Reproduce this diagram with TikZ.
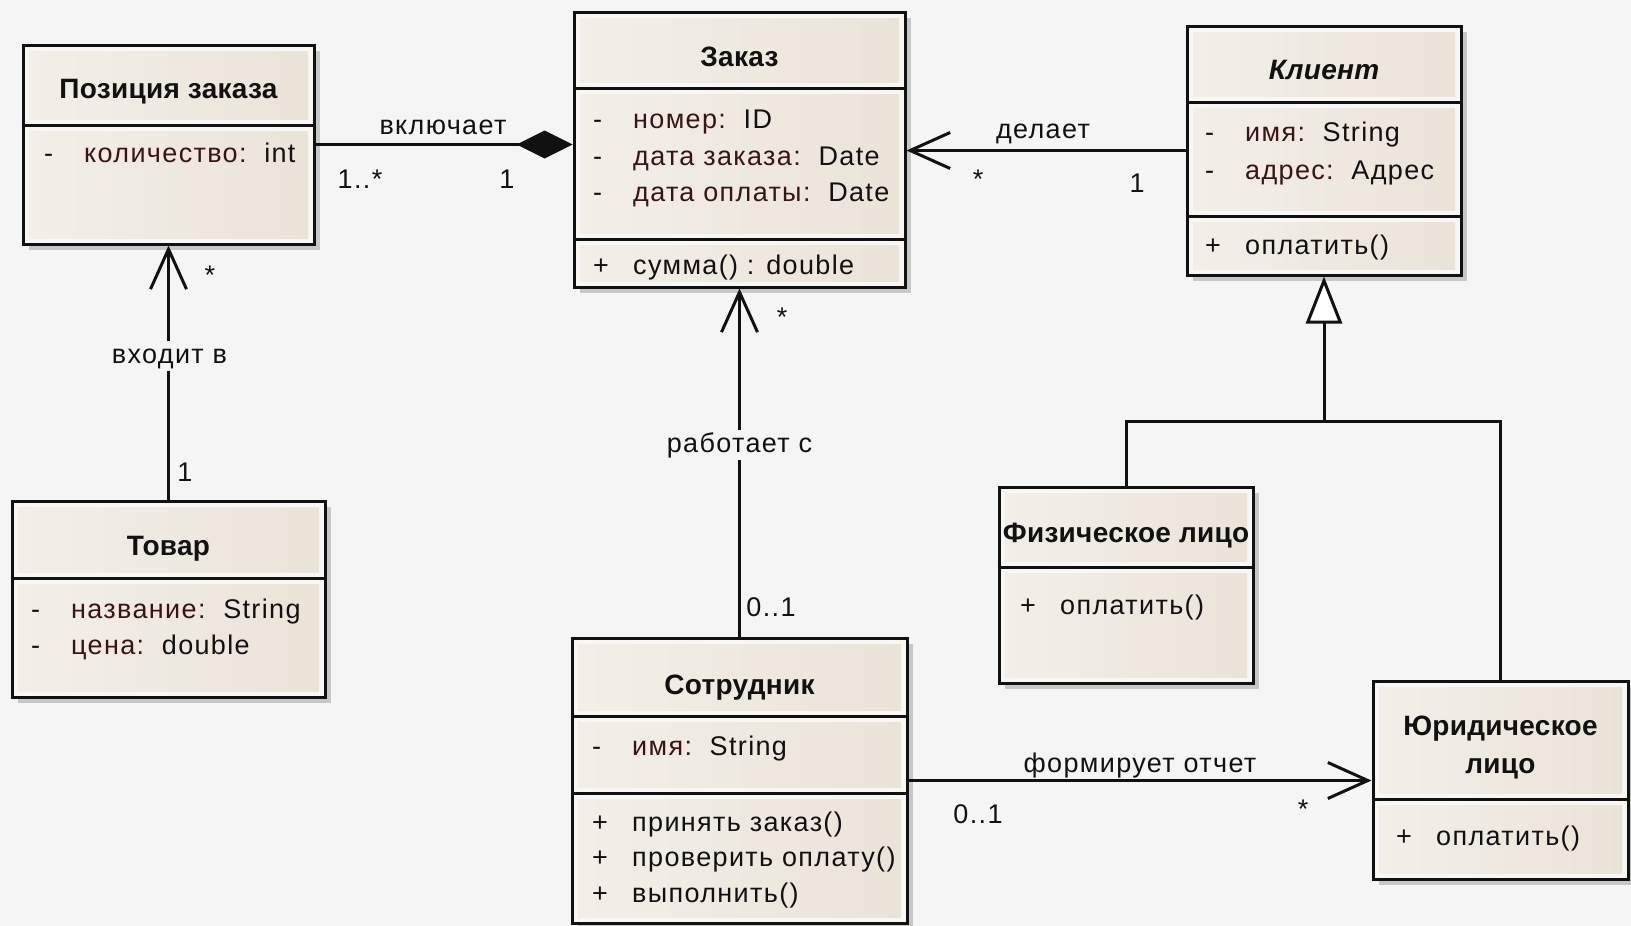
\documentclass[tikz,border=0pt]{standalone}
\usepackage{fontspec}
\setmainfont{Liberation Sans}
\newfontfamily\rowfont[LetterSpace=5]{Liberation Sans}
\newfontfamily\headfont[LetterSpace=1]{Liberation Sans}
\usetikzlibrary{arrows.meta,shadows}
\definecolor{pagebg}{HTML}{F5F5F5}
\definecolor{boxbg}{HTML}{F9F7F3}
\definecolor{insetL}{HTML}{F3EFE8}
\definecolor{insetR}{HTML}{EAE3D8}
\definecolor{attrname}{HTML}{3A1414}
\definecolor{ink}{HTML}{111111}
\newcommand\vis[1]{\makebox[40pt][l]{#1}}
\newcommand\an[1]{\textcolor{attrname}{#1}}
\newcommand\inset[4]{\shade[left color=insetL,right color=insetR] (#1+6,#2+6) rectangle (#3-6,#4-6);}
\tikzset{
 cls/.style={draw=ink, line width=3pt, fill=boxbg, inner sep=0pt,
   drop shadow={shadow xshift=6pt, shadow yshift=-6pt, fill=black!22, opacity=1}},
 sepline/.style={draw=ink, line width=3pt},
 row/.style={anchor=west, inner sep=0pt, text height=19pt, text depth=5pt,
   font=\rowfont\fontsize{27}{32}\selectfont, text=ink},
 head/.style={anchor=center, inner sep=0pt, text height=20pt, text depth=6pt,
   font=\headfont\bfseries\fontsize{28}{34}\selectfont, text=ink},
 lbl/.style={inner sep=3pt, text height=19pt, text depth=5pt,
   font=\rowfont\fontsize{27}{32}\selectfont, text=ink},
 conn/.style={draw=ink, line width=3pt},
 assoc/.style={conn, -{Straight Barb[length=40pt,width=36pt]}},
 compo/.style={conn, -{Diamond[length=56pt,width=28pt]}},
 gen/.style={conn, -{Triangle[open,length=47pt,width=36pt,fill=white]}},
}
\begin{document}
\begin{tikzpicture}[x=1pt,y=-1pt]
\useasboundingbox (0,0) rectangle (1631,926);
\fill[pagebg] (0,0) rectangle (1631,926);

% ---------- class boxes ----------
\node[cls, minimum width=291pt, minimum height=199pt] (poz) at (168.5,144.5) {};
\node[cls, minimum width=331pt, minimum height=275pt] (zak) at (739.5,149.5) {};
\node[cls, minimum width=274pt, minimum height=249pt] (kl)  at (1324,150.5) {};
\node[cls, minimum width=313pt, minimum height=196pt] (tov) at (168.5,599) {};
\node[cls, minimum width=335pt, minimum height=285pt] (sot) at (739.5,780.5) {};
\node[cls, minimum width=254pt, minimum height=196pt] (fiz) at (1126,585) {};
\node[cls, minimum width=255pt, minimum height=198pt] (yur) at (1500.5,780) {};

% compartments (inner tint)
\inset{23}{45}{314}{125}\inset{23}{125}{314}{244}
\inset{574}{12}{905}{88}\inset{574}{88}{905}{239}\inset{574}{239}{905}{287}
\inset{1187}{26}{1461}{102}\inset{1187}{102}{1461}{216}\inset{1187}{216}{1461}{275}
\inset{12}{501}{325}{578}\inset{12}{578}{325}{697}
\inset{572}{638}{907}{716}\inset{572}{716}{907}{793}\inset{572}{793}{907}{923}
\inset{999}{487}{1253}{567}\inset{999}{567}{1253}{683}
\inset{1373}{681}{1628}{799}\inset{1373}{799}{1628}{879}

% separators
\draw[sepline] (poz.west |- 0,125) -- (poz.east |- 0,125);
\draw[sepline] (zak.west |- 0,88) -- (zak.east |- 0,88);
\draw[sepline] (zak.west |- 0,239) -- (zak.east |- 0,239);
\draw[sepline] (kl.west |- 0,102) -- (kl.east |- 0,102);
\draw[sepline] (kl.west |- 0,216) -- (kl.east |- 0,216);
\draw[sepline] (tov.west |- 0,578) -- (tov.east |- 0,578);
\draw[sepline] (sot.west |- 0,716) -- (sot.east |- 0,716);
\draw[sepline] (sot.west |- 0,793) -- (sot.east |- 0,793);
\draw[sepline] (fiz.west |- 0,567) -- (fiz.east |- 0,567);
\draw[sepline] (yur.west |- 0,799) -- (yur.east |- 0,799);

% ---------- titles ----------
\node[head] (poz-h) at (168.5,91) {Позиция заказа};
\node[head] (zak-h) at (739.5,59) {Заказ};
\node[head, font=\headfont\bfseries\itshape\fontsize{28}{34}\selectfont] (kl-h) at (1324,72) {Клиент};
\node[head] (tov-h) at (168.5,548) {Товар};
\node[head] (sot-h) at (739.5,687) {Сотрудник};
\node[head] (fiz-h) at (1126,535) {Физическое лицо};
\node[head] (yur-h1) at (1500.5,728) {Юридическое};
\node[head] (yur-h2) at (1500.5,766) {лицо};

% ---------- attributes / operations ----------
\node[row] (poz-a1) at (44,155) {\vis{-}\an{количество:}\ \ int};

\node[row] (zak-a1) at (593,121) {\vis{-}\an{номер:}\ \ ID};
\node[row] (zak-a2) at (593,158) {\vis{-}\an{дата заказа:}\ \ Date};
\node[row] (zak-a3) at (593,194) {\vis{-}\an{дата оплаты:}\ \ Date};
\node[row] (zak-m1) at (593,267) {\vis{+}сумма() : double};

\node[row] (kl-a1) at (1205,134) {\vis{-}\an{имя:}\ \ String};
\node[row] (kl-a2) at (1205,172) {\vis{-}\an{адрес:}\ \ Адрес};
\node[row] (kl-m1) at (1205,247) {\vis{+}оплатить()};

\node[row] (tov-a1) at (31,611) {\vis{-}\an{название:}\ \ String};
\node[row] (tov-a2) at (31,647) {\vis{-}\an{цена:}\ \ double};

\node[row] (sot-a1) at (592,748) {\vis{-}\an{имя:}\ \ String};
\node[row] (sot-m1) at (592,824) {\vis{+}принять заказ()};
\node[row] (sot-m2) at (592,859) {\vis{+}проверить оплату()};
\node[row] (sot-m3) at (592,895) {\vis{+}выполнить()};

\node[row] (fiz-m1) at (1020,607) {\vis{+}оплатить()};
\node[row] (yur-m1) at (1396,838) {\vis{+}оплатить()};

% ---------- connectors ----------
\draw[compo] (poz.east) -- (zak.west |- poz.east);
\draw[assoc] (kl.west) -- (zak.east |- kl.west);
\draw[assoc] (tov.north) -- (poz.south);
\draw[assoc] (sot.north) -- (zak.south);
\draw[assoc] (sot.east) -- (yur.west |- sot.east);
\coordinate (gj) at (1325,421);
\draw[conn] (fiz.north) |- (yur.north |- gj) -- (yur.north);
\draw[gen] (kl.south |- gj) -- (kl.south);

% ---------- connector labels ----------
\node[lbl] (l-incl) at (443,127) {включает};
\node[lbl] (m-incl1) at (360,181) {1..*};
\node[lbl] (m-incl2) at (507,181) {1};
\node[lbl] (l-make) at (1043,131) {делает};
\node[lbl] (m-make1) at (978,181) {*};
\node[lbl] (m-make2) at (1137,185) {1};
\node[lbl, fill=pagebg] (l-in) at (169.5,356) {входит в};
\node[lbl] (m-in1) at (210,277) {*};
\node[lbl] (m-in2) at (185,474) {1};
\node[lbl, fill=pagebg] (l-work) at (739.5,445) {работает с};
\node[lbl] (m-work1) at (782,319) {*};
\node[lbl] (m-work2) at (771,609) {0..1};
\node[lbl] (l-rep) at (1140,765) {формирует отчет};
\node[lbl] (m-rep1) at (978,816) {0..1};
\node[lbl] (m-rep2) at (1303,811) {*};
\end{tikzpicture}
\end{document}
